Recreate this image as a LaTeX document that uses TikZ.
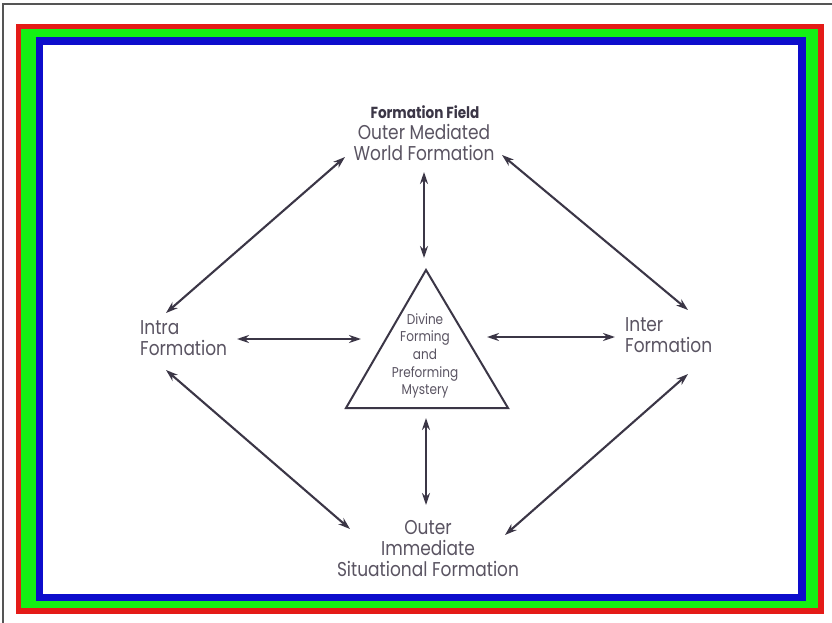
\documentclass[tikz,border=0pt]{standalone}
\usepackage{fontspec}
\setmainfont[FakeStretch=0.85]{Poppins}
\usepackage{xcolor}
\usetikzlibrary{calc,arrows.meta}
\definecolor{rimred}{HTML}{E41B17}
\definecolor{rimgreen}{HTML}{14F014}
\definecolor{rimblue}{HTML}{0D0DCC}
\definecolor{frame}{HTML}{555555}
\definecolor{ink}{HTML}{3B3646}
\definecolor{txt}{HTML}{5A5462}
\tikzset{
  arr/.style={draw=ink, line width=2.1pt, >={Stealth[length=12pt,width=8pt]}, <->},
  tri/.style={draw=ink, line width=2pt, line join=miter},
  lab/.style={text=txt, font=\fontsize{20}{21}\selectfont, inner sep=0pt},
  labs/.style={text=txt, font=\fontsize{14.2}{17.6}\selectfont, inner sep=0pt, align=center},
  ttl/.style={text=ink, font=\bfseries\fontsize{16}{18}\selectfont, inner sep=0pt}
}

\begin{document}
\begin{tikzpicture}[x=1pt,y=-1pt]
  \useasboundingbox (0,0) rectangle (832,623);
  \fill[white] (0,0) rectangle (832,623);

  % coloured rim
  \draw[frame, line width=1.5pt] (3,623) -- (3,4) -- (832,4);
  \fill[rimred] (16,24) rectangle (824,614);
  \fill[rimgreen] (21,29) rectangle (818,608);
  \fill[rimblue] (36,37) rectangle (806,601);
  \fill[white] (43,45) rectangle (798,594);

  % labels
  \node[ttl] (title) at (425,112) {Formation Field};
  \node[lab, align=center] (outer) at (424,142) {Outer Mediated\\World Formation};
  \node[lab, align=left, anchor=west] (intra) at (140,338) {Intra\\Formation};
  \node[lab, align=left, anchor=west] (inter) at (625,335) {Inter\\Formation};
  \node[lab, align=center] (situ) at (428,549) {Outer\\Immediate\\Situational Formation};

  % triangle
  \coordinate (apex) at (426,270);
  \coordinate (bl) at (346,408);
  \coordinate (br) at (508,408);
  \draw[tri] (apex) -- (bl) -- (br) -- cycle;
  \node[labs] (myst) at (425,356) {Divine\\Forming\\and\\Preforming\\Mystery};

  % arrow ends
  \coordinate (ul1) at (166,313);
  \coordinate (ul2) at (345,157);
  \coordinate (ur1) at (502,155);
  \coordinate (ur2) at (688,310);
  \coordinate (ll1) at (166,370);
  \coordinate (ll2) at (350,529);
  \coordinate (lr1) at (505,535);
  \coordinate (lr2) at (688,374);
  \coordinate (tv1) at (424,172);
  \coordinate (tv2) at (424,258);
  \coordinate (bv1) at (426,418);
  \coordinate (bv2) at (426,505);
  \coordinate (lh1) at (237,339);
  \coordinate (lh2) at (361,339);
  \coordinate (rh1) at (487,337);
  \coordinate (rh2) at (615,337);

  \draw[arr] (ul1) -- (ul2);
  \draw[arr] (ur1) -- (ur2);
  \draw[arr] (ll1) -- (ll2);
  \draw[arr] (lr1) -- (lr2);
  \draw[arr] (tv1) -- (tv2);
  \draw[arr] (bv1) -- (bv2);
  \draw[arr] (lh1) -- (lh2);
  \draw[arr] (rh1) -- (rh2);
\end{tikzpicture}
\end{document}
